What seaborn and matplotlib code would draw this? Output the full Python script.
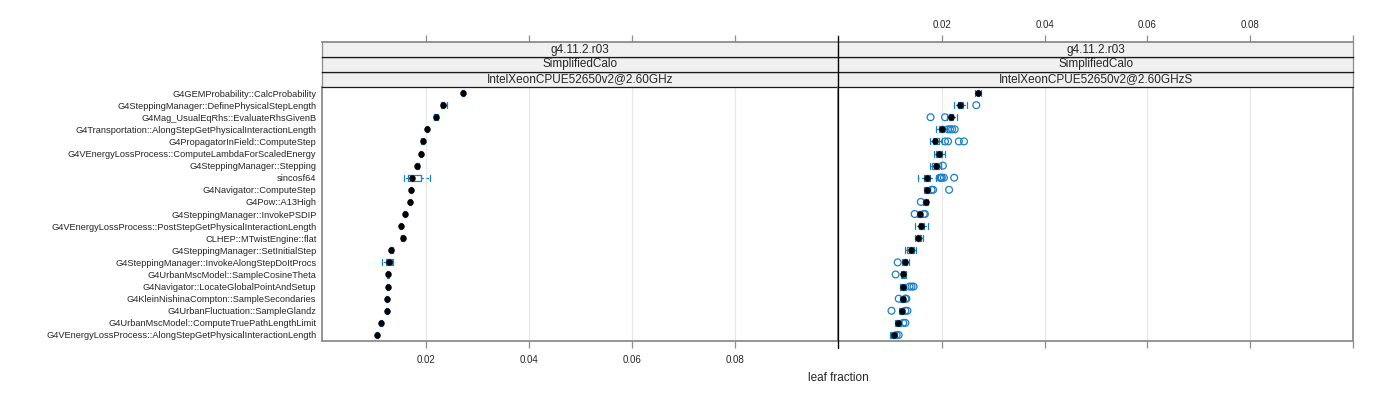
import seaborn as sns
import matplotlib.pyplot as plt
import pandas as pd
from matplotlib.lines import Line2D

sns.set_style("white")
plt.rcParams['font.family'] = ['Liberation Sans', 'DejaVu Sans']

functions = [
    "G4GEMProbability::CalcProbability",
    "G4SteppingManager::DefinePhysicalStepLength",
    "G4Mag_UsualEqRhs::EvaluateRhsGivenB",
    "G4Transportation::AlongStepGetPhysicalInteractionLength",
    "G4PropagatorInField::ComputeStep",
    "G4VEnergyLossProcess::ComputeLambdaForScaledEnergy",
    "G4SteppingManager::Stepping",
    "sincosf64",
    "G4Navigator::ComputeStep",
    "G4Pow::A13High",
    "G4SteppingManager::InvokePSDIP",
    "G4VEnergyLossProcess::PostStepGetPhysicalInteractionLength",
    "CLHEP::MTwistEngine::flat",
    "G4SteppingManager::SetInitialStep",
    "G4SteppingManager::InvokeAlongStepDoItProcs",
    "G4UrbanMscModel::SampleCosineTheta",
    "G4Navigator::LocateGlobalPointAndSetup",
    "G4KleinNishinaCompton::SampleSecondaries",
    "G4UrbanFluctuation::SampleGlandz",
    "G4UrbanMscModel::ComputeTruePathLengthLimit",
    "G4VEnergyLossProcess::AlongStepGetPhysicalInteractionLength",
]
strips_left = ["g4.11.2.r03", "SimplifiedCalo", "IntelXeonCPUE52650v2@2.60GHz"]
strips_right = ["g4.11.2.r03", "SimplifiedCalo", "IntelXeonCPUE52650v2@2.60GHzS"]
tick_vals = [0.02, 0.04, 0.06, 0.08, 0.10]
tick_labels = ["0.02", "0.04", "0.06", "0.08", ""]

# left panel box stats
med_l = [0.0272, 0.0233, 0.0219, 0.0202, 0.0194, 0.0190, 0.0183, 0.0173, 0.0171, 0.0169, 0.0159,
         0.0151, 0.0155, 0.0132, 0.0128, 0.0126, 0.0126, 0.0124, 0.0124, 0.0113, 0.0105]
q1_l = [0.0270, 0.0231, 0.0216, 0.0201, 0.0192, 0.0189, 0.0181, 0.0165, 0.0170, 0.0168, 0.0158,
        0.0150, 0.0153, 0.0131, 0.0122, 0.0125, 0.0125, 0.0123, 0.0123, 0.0112, 0.0104]
q3_l = [0.0273, 0.0235, 0.0222, 0.0203, 0.0196, 0.0191, 0.0185, 0.0190, 0.0172, 0.0170, 0.0161,
        0.0152, 0.0157, 0.0134, 0.0134, 0.0127, 0.0127, 0.0125, 0.0125, 0.0114, 0.0106]
lo_l = [0.0269, 0.0230, 0.0215, 0.0200, 0.0191, 0.0188, 0.0180, 0.0157, 0.0169, 0.0167, 0.0157,
        0.0149, 0.0152, 0.0130, 0.0115, 0.0124, 0.0124, 0.0122, 0.0122, 0.0111, 0.0103]
hi_l = [0.0274, 0.0240, 0.0223, 0.0204, 0.0197, 0.0192, 0.0186, 0.0208, 0.0173, 0.0171, 0.0162,
        0.0153, 0.0158, 0.0135, 0.0136, 0.0128, 0.0129, 0.0126, 0.0126, 0.0115, 0.0107]
out_l = [[] for _ in functions]

# right panel box stats
med_r = [0.0271, 0.0235, 0.0218, 0.0200, 0.0186, 0.0194, 0.0188, 0.0172, 0.0171, 0.0169, 0.0157,
         0.0159, 0.0153, 0.0139, 0.0129, 0.0125, 0.0125, 0.0124, 0.0122, 0.0114, 0.0106]
q1_r = [0.0268, 0.0231, 0.0213, 0.0194, 0.0182, 0.0188, 0.0180, 0.0165, 0.0167, 0.0165, 0.0154,
        0.0155, 0.0151, 0.0133, 0.0124, 0.0122, 0.0120, 0.0120, 0.0118, 0.0110, 0.0102]
q3_r = [0.0273, 0.0241, 0.0222, 0.0204, 0.0194, 0.0200, 0.0194, 0.0176, 0.0176, 0.0172, 0.0160,
        0.0165, 0.0159, 0.0145, 0.0133, 0.0129, 0.0128, 0.0126, 0.0125, 0.0118, 0.0110]
lo_r = [0.0264, 0.0224, 0.0210, 0.0188, 0.0176, 0.0184, 0.0176, 0.0153, 0.0165, 0.0163, 0.0151,
        0.0147, 0.0147, 0.0129, 0.0122, 0.0121, 0.0118, 0.0118, 0.0116, 0.0108, 0.0100]
hi_r = [0.0277, 0.0249, 0.0229, 0.0210, 0.0200, 0.0206, 0.0198, 0.0188, 0.0176, 0.0173, 0.0162,
        0.0173, 0.0163, 0.0149, 0.0137, 0.0131, 0.0131, 0.0128, 0.0127, 0.0120, 0.0112]
out_r = [
    [],
    [0.0267],
    [0.0178, 0.0206],
    [0.0212, 0.0216, 0.0220, 0.0225],
    [0.0206, 0.0212, 0.0233, 0.0243],
    [],
    [0.0202],
    [0.0196, 0.0198, 0.0200, 0.0204, 0.0224],
    [0.0180, 0.0183, 0.0214],
    [0.0159],
    [0.0147, 0.0165, 0.0167],
    [],
    [],
    [],
    [0.0114],
    [0.0110],
    [0.0137, 0.0141, 0.0145],
    [0.0116, 0.0129, 0.0131],
    [0.0102, 0.0129, 0.0133],
    [0.0125, 0.0129],
    [0.0112, 0.0116],
]

blue = "#1a80c8"
frame = "#8c8c8c"
xlim = (-0.0002, 0.1)

fig = plt.figure(figsize=(14, 4), dpi=100)


def draw_panel(left, width, med, q1, q3, lo, hi, outs, strips, bottom_labels, top_labels):
    ax = fig.add_axes([left, 0.1475, width, 0.635])
    stats = [dict(med=m, q1=a, q3=b, whislo=l, whishi=h, fliers=[])
             for m, a, b, l, h in zip(med, q1, q3, lo, hi)]
    ax.bxp(stats, positions=range(len(med)), orientation="horizontal", widths=0.5,
           showfliers=False, manage_ticks=False, capwidths=0.5,
           boxprops=dict(color=blue, lw=0.9),
           whiskerprops=dict(color=blue, lw=0.9, ls=(0, (2, 2))),
           capprops=dict(color=blue, lw=0.9),
           medianprops=dict(lw=0))
    orows = [i for i, o in enumerate(outs) for _ in o]
    ovals = [v for o in outs for v in o]
    if ovals:
        sns.scatterplot(x=ovals, y=orows, ax=ax, marker="o", s=24,
                        facecolor="none", edgecolor=blue, linewidth=0.9, zorder=3)
    df = pd.DataFrame({"row": range(len(med)), "median": med})
    sns.scatterplot(data=df, x="median", y="row", ax=ax, color="black", s=22,
                    linewidth=0, zorder=4)
    for t in tick_vals[:-1]:
        ax.axvline(t, color="#e8e8e8", lw=0.9, zorder=0)
    ax.set_xlim(*xlim)
    ax.set_ylim(len(med) - 0.5, -0.5)
    ax.set_xticks(tick_vals)
    if bottom_labels:
        ax.set_xticklabels(tick_labels)
    else:
        ax.set_xticklabels([])
    ax.tick_params(axis="x", direction="out", length=5, width=0.9, color=frame,
                   labelsize=7, pad=5, bottom=True)
    ax.set_xlabel("")
    ax.set_ylabel("")
    for s in ax.spines.values():
        s.set_color(frame)
        s.set_linewidth(1.3)
    # strips
    h = 0.0375
    for k, txt in enumerate(strips[::-1]):
        sax = fig.add_axes([left, 0.7825 + k * h, width, h], facecolor="#f0f0f0")
        sax.set_xlim(*xlim)
        sax.set_yticks([])
        sax.set_xticks([])
        for s in sax.spines.values():
            s.set_color("#1a1a1a")
            s.set_linewidth(0.9)
        sax.spines["left"].set_color(frame)
        sax.spines["right"].set_color(frame)
        sax.text(0.5, 0.5, txt, ha="center", va="center", fontsize=8.5,
                 transform=sax.transAxes)
        if k == 2:
            sax.spines["top"].set_color(frame)
            sax.spines["top"].set_linewidth(1.3)
            sax.set_xticks(tick_vals)
            sax.set_xticklabels(tick_labels if top_labels else [])
            sax.tick_params(axis="x", top=True, bottom=False, labeltop=top_labels,
                            labelbottom=False, direction="out", length=5, width=0.9,
                            color=frame, labelsize=7, pad=4)
    return ax


ax_l = draw_panel(0.23, 0.3686, med_l, q1_l, q3_l, lo_l, hi_l, out_l, strips_left, True, False)
ax_l.set_yticks(range(len(functions)))
ax_l.set_yticklabels(functions, fontsize=6.7)
ax_l.tick_params(axis="y", length=0, pad=4)

ax_r = draw_panel(0.5986, 0.3679, med_r, q1_r, q3_r, lo_r, hi_r, out_r, strips_right, False, True)
ax_r.set_yticks([])

# black divider between the two panels
fig.add_artist(Line2D([0.5986, 0.5986], [0.13, 0.91], color="black", lw=0.9,
                      transform=fig.transFigure))

fig.text(0.5986, 0.055, "leaf fraction", ha="center", va="center", fontsize=8.5)

plt.savefig("out.png", dpi=100)
